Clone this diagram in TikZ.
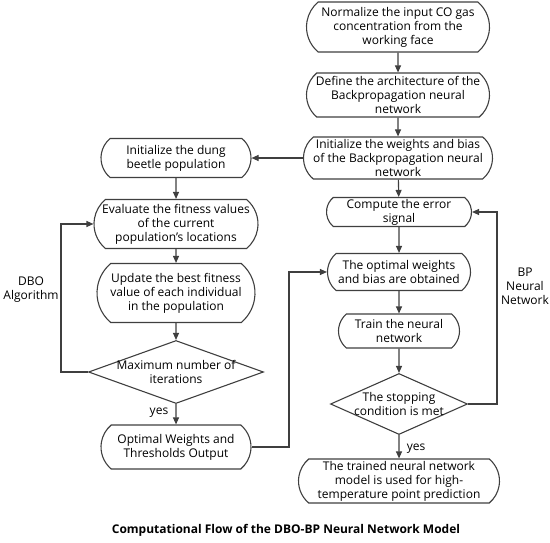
\documentclass[tikz,border=0pt]{standalone}
\usepackage{fontspec}
\setmainfont{Open Sans}
\usetikzlibrary{shapes.misc,shapes.geometric,arrows.meta,positioning}
\definecolor{linegray}{HTML}{3F3F3F}

\begin{document}
\begin{tikzpicture}[
  x=1pt, y=-1pt,
  stepnode/.style={rounded rectangle, rounded rectangle arc length=100, draw=linegray, line width=1.1pt, align=center, inner sep=0pt, font=\fontsize{12}{14}\selectfont},
  decision/.style={diamond, draw=linegray, line width=1.1pt, inner sep=0pt},
  flow/.style={draw=linegray, line width=1.1pt, -{Triangle[length=7pt,width=6pt]}},
  lbl/.style={align=center, font=\fontsize{12}{14}\selectfont}
]
  \useasboundingbox (0,0) rectangle (550,543);

  % right column: BP network
  \node[stepnode, minimum width=183pt, minimum height=50pt] (n1) at (398,27) {Normalize the input CO gas\\concentration from the\\working face};
  \node[stepnode, minimum width=183pt, minimum height=44pt] (n2) at (398,95) {Define the architecture of the\\Backpropagation neural\\network};
  \node[stepnode, minimum width=189pt, minimum height=42pt] (n3) at (398,158) {Initialize the weights and bias\\of the Backpropagation neural\\network};
  \node[stepnode, minimum width=145pt, minimum height=29pt] (n4) at (399,212) {Compute the error\\signal};
  \node[stepnode, minimum width=143pt, minimum height=37pt] (n5) at (399,272) {The optimal weights\\and bias are obtained};
  \node[stepnode, minimum width=121pt, minimum height=34pt] (n6) at (399,331) {Train the neural\\network};
  \node[decision, minimum width=137pt, minimum height=61pt] (d2) at (399,404) {};
  \node[lbl] (d2text) at (d2) {The stopping\\condition is met};
  \node[stepnode, minimum width=201pt, minimum height=44pt] (n7) at (399,481) {The trained neural network\\model is used for high-\\temperature point prediction};

  % left column: DBO algorithm
  \node[stepnode, minimum width=150pt, minimum height=39pt] (l1) at (176,158) {Initialize the dung\\beetle population};
  \node[stepnode, minimum width=164pt, minimum height=49pt] (l2) at (176,224) {Evaluate the fitness values\\of the current\\population’s locations};
  \node[stepnode, minimum width=158pt, minimum height=59pt] (l3) at (176,293) {Update the best fitness\\value of each individual\\in the population};
  \node[decision, minimum width=175pt, minimum height=63pt] (d1) at (176,372) {};
  \node[lbl] (d1text) at (d1) {Maximum number of\\iterations};
  \node[stepnode, minimum width=150pt, minimum height=44pt] (l4) at (176,447) {Optimal Weights and\\Thresholds Output};

  % loop corners
  \coordinate (dboloop) at (61,372);
  \coordinate (optjoin) at (289,447);
  \coordinate (bploop) at (497,404);

  % arrows
  \draw[flow] (n1) -- (n2);
  \draw[flow] (n2) -- (n3);
  \draw[flow] (n3) -- (n4);
  \draw[flow] (n4) -- (n5);
  \draw[flow] (n5) -- (n6);
  \draw[flow] (n6) -- (d2);
  \draw[flow] (d2) -- (n7);
  \draw[flow] (n3.west) -- (l1.east);
  \draw[flow] (l1) -- (l2);
  \draw[flow] (l2) -- (l3);
  \draw[flow] (l3) -- (d1);
  \draw[flow] (d1) -- (l4);
  \draw[flow] (d1.west) -- (dboloop) |- (l2.west);
  \draw[flow] (l4.east) -- (optjoin) |- (n5.west);
  \draw[flow] (d2.east) -- (bploop) |- (n4.east);

  % labels
  \node[lbl] (yesdbo) at (159,413) {yes};
  \node[lbl] (yesbp) at (416,449) {yes};
  \node[lbl] (dbolbl) at (31,290) {DBO\\Algorithm};
  \node[lbl] (bplbl) at (525,286) {BP\\Neural\\Network};
  \node[font=\fontsize{12}{14}\selectfont\bfseries] (title) at (286,530) {Computational Flow of the DBO-BP Neural Network Model};
\end{tikzpicture}
\end{document}
